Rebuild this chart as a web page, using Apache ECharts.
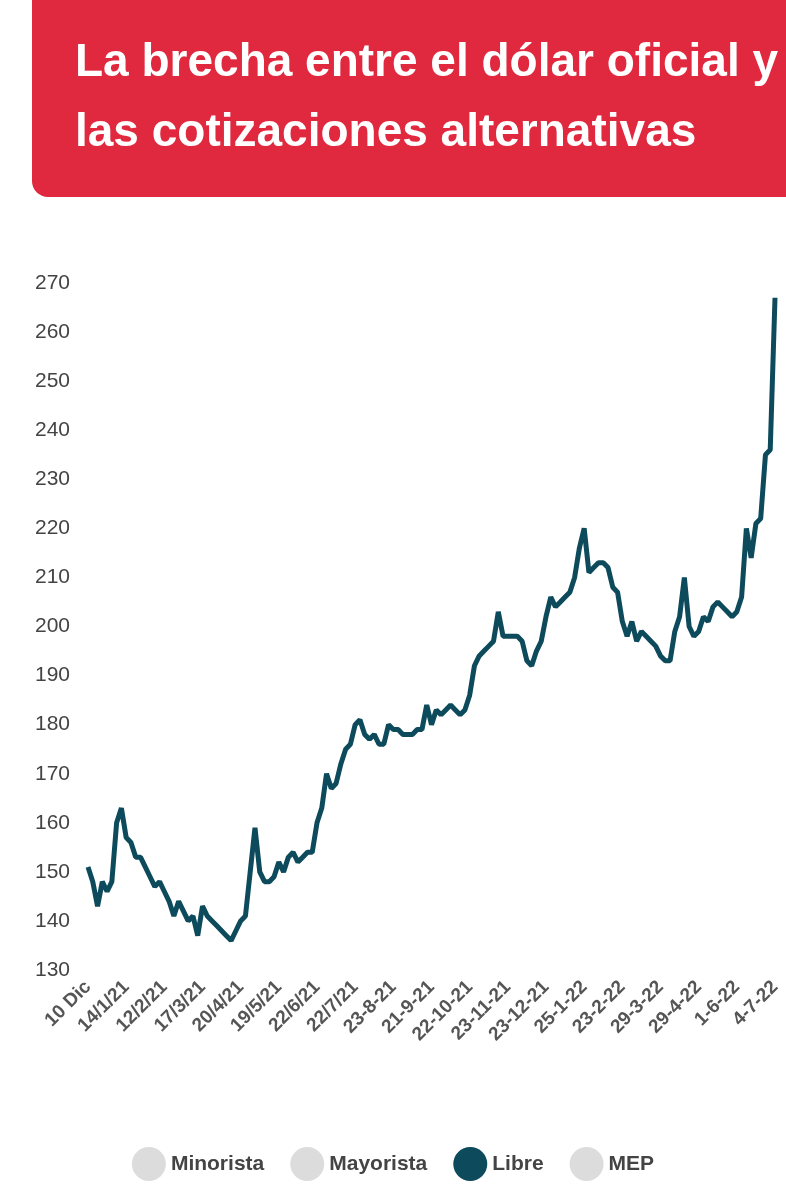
<!DOCTYPE html>
<html><head><meta charset="utf-8">
<script src="https://cdn.jsdelivr.net/npm/echarts@6/dist/echarts.min.js"></script>
<style>html,body{margin:0;padding:0;background:#fff}#c{width:786px;height:1200px}</style>
</head><body><div id="c"></div>
<script>
const tickLabels = ["10 Dic","14/1/21","12/2/21","17/3/21","20/4/21","19/5/21","22/6/21","22/7/21","23-8-21","21-9-21","22-10-21","23-11-21","23-12-21","25-1-22","23-2-22","29-3-22","29-4-22","1-6-22","4-7-22"];
const libre = [
151,148,143,148,146,148,160,163,
157,156,153,153,151,149,147,148,
146,144,141,144,142,140,141,137,
143,141,140,139,138,137,136,138,
140,141,150,159,150,148,148,149,
152,150,153,154,152,153,154,154,
160,163,170,167,168,172,175,176,
180,181,178,177,178,176,176,180,
179,179,178,178,178,179,179,184,
180,183,182,183,184,183,182,183,
186,192,194,195,196,197,203,198,
198,198,198,197,193,192,195,197,
202,206,204,205,206,207,210,216,
220,211,212,213,213,212,208,207,
201,198,201,197,199,198,197,196,
194,193,193,199,202,210,200,198,
199,202,201,204,205,204,203,202,
203,206,220,214,221,222,235,236,
267];
const step = 8;
const categories = libre.map((_, i) => String(i));
const chart = echarts.init(document.getElementById('c'));
const font = "'Liberation Sans Narrow','Liberation Sans',sans-serif";
chart.setOption({
  animation:false,
  graphic:[
    {type:'rect',shape:{x:32,y:-20,width:770,height:217,r:16},style:{fill:'#e0283e'}},
    {type:'text',left:75,top:28,style:{text:'La brecha entre el dólar oficial y\nlas cotizaciones alternativas',fill:'#fff',font:"bold 46px "+font,lineHeight:70}}
  ],
  grid:{left:88,right:11,top:283,bottom:230},
  legend:{bottom:14,left:'center',icon:'circle',itemWidth:34,itemHeight:34,itemGap:26,
    textStyle:{fontSize:21,fontWeight:'bold',color:'#444',fontFamily:font},
    data:['Minorista','Mayorista','Libre','MEP']},
  xAxis:{type:'category',data:categories,boundaryGap:false,
    axisLine:{show:false},axisTick:{show:false},
    axisLabel:{interval:(i)=>i%step===0,rotate:45,fontSize:19,fontWeight:'bold',color:'#555',fontFamily:font,margin:14,
      formatter:(v)=>tickLabels[Number(v)/step]||''}},
  yAxis:{type:'value',min:130,max:270,interval:10,splitLine:{show:false},axisLine:{show:false},axisTick:{show:false},
    axisLabel:{fontSize:21,color:'#444',fontFamily:font,align:'left',margin:53}},
  series:[
    {name:'Minorista',type:'line',data:[],itemStyle:{color:'#dcdcdc'}},
    {name:'Mayorista',type:'line',data:[],itemStyle:{color:'#dcdcdc'}},
    {name:'Libre',type:'line',data:libre,showSymbol:false,lineStyle:{color:'#0d4a5b',width:5},itemStyle:{color:'#0d4a5b'}},
    {name:'MEP',type:'line',data:[],itemStyle:{color:'#dcdcdc'}}
  ]
});
</script></body></html>
